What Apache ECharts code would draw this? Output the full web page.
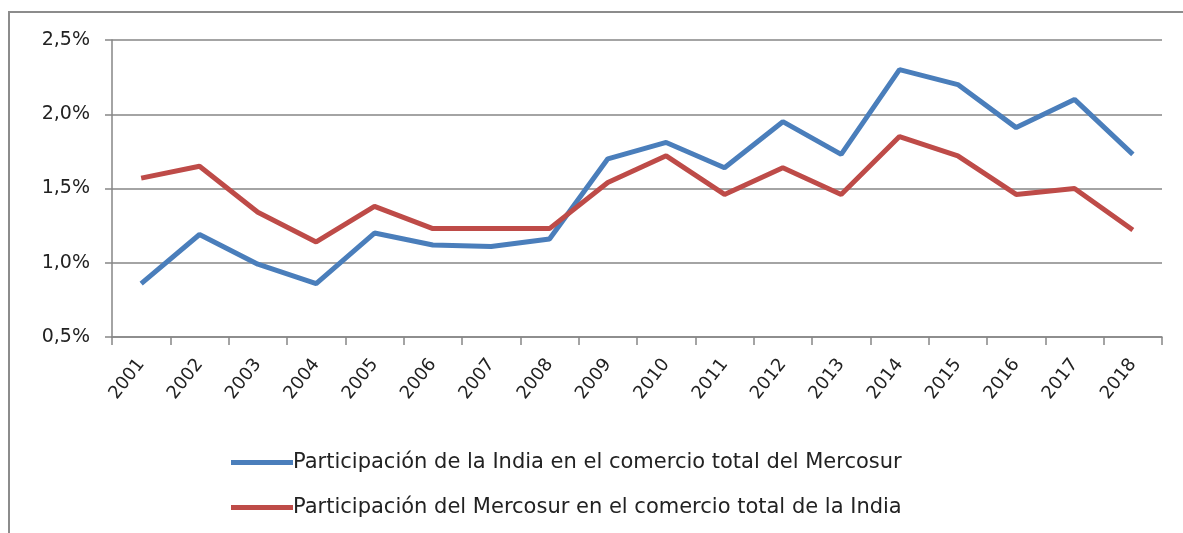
<!DOCTYPE html>
<html>
<head>
<meta charset="utf-8">
<script src="https://cdn.jsdelivr.net/npm/echarts@6/dist/echarts.min.js"></script>
<style>
  html, body { margin: 0; padding: 0; background: #fff; }
  #chart { width: 1183px; height: 533px; }
</style>
</head>
<body>
<div id="chart"></div>
<script>
var years = ['2001', '2002', '2003', '2004', '2005', '2006', '2007', '2008', '2009',
    '2010', '2011', '2012', '2013', '2014', '2015', '2016', '2017', '2018'];

// participación de la India en el comercio total del Mercosur (%)
var indiaEnMercosur = [0.86, 1.19, 0.99, 0.86, 1.20, 1.12, 1.11, 1.16, 1.70,
    1.81, 1.64, 1.95, 1.73, 2.30, 2.20, 1.91, 2.10, 1.73];

// participación del Mercosur en el comercio total de la India (%)
var mercosurEnIndia = [1.57, 1.65, 1.34, 1.14, 1.38, 1.23, 1.23, 1.23, 1.54,
    1.72, 1.46, 1.64, 1.46, 1.85, 1.72, 1.46, 1.50, 1.22];

var seriesNames = [
    'Participación de la India en el comercio total del Mercosur',
    'Participación del Mercosur en el comercio total de la India'
];

var chart = echarts.init(document.getElementById('chart'));

var font = 'DejaVu Sans';

option = {
    backgroundColor: '#fff',
    animation: false,
    graphic: [{
        type: 'rect',
        shape: { x: 9, y: 12, width: 1200, height: 540 },
        style: { fill: 'none', stroke: '#8c8c8c', lineWidth: 2 }
    }],
    grid: { left: 112, right: 21, top: 40, bottom: 196 },
    legend: {
        orient: 'vertical',
        left: 226,
        top: 447,
        itemWidth: 62,
        itemHeight: 5,
        itemGap: 24,
        icon: 'rect',
        selectedMode: false,
        textStyle: { fontFamily: font, fontSize: 21, color: '#222', padding: [0, 0, 0, -5] },
        data: seriesNames
    },
    xAxis: {
        type: 'category',
        data: years,
        boundaryGap: true,
        axisLine: { lineStyle: { color: '#868686', width: 1.5 } },
        axisTick: { show: true, length: 8, alignWithLabel: false, lineStyle: { color: '#868686', width: 1.5 } },
        axisLabel: { rotate: 52, margin: 24, fontFamily: font, fontSize: 18, color: '#222' }
    },
    yAxis: {
        type: 'value',
        min: 0.5,
        max: 2.5,
        interval: 0.5,
        axisLine: { show: true, lineStyle: { color: '#868686', width: 1.5 } },
        axisTick: { show: true, length: 7, lineStyle: { color: '#868686', width: 1.5 } },
        splitLine: { lineStyle: { color: '#868686', width: 1.5 } },
        axisLabel: {
            margin: 22,
            fontFamily: font,
            fontSize: 19,
            color: '#222',
            formatter: function (v) { return v.toFixed(1).replace('.', ',') + '%'; }
        }
    },
    series: [{
        name: seriesNames[0],
        type: 'line',
        data: indiaEnMercosur,
        symbol: 'none',
        itemStyle: { color: '#4a7ebb' },
        lineStyle: { color: '#4a7ebb', width: 5 }
    }, {
        name: seriesNames[1],
        type: 'line',
        data: mercosurEnIndia,
        symbol: 'none',
        itemStyle: { color: '#be4b48' },
        lineStyle: { color: '#be4b48', width: 5 }
    }]
};

chart.setOption(option);
</script>
</body>
</html>
